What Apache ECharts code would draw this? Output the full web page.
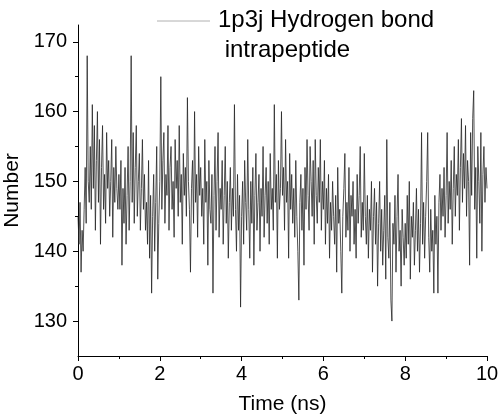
<!DOCTYPE html>
<html>
<head>
<meta charset="utf-8">
<title>1p3j Hydrogen bond</title>
<style>
  html, body { margin: 0; padding: 0; background: #fff; }
  #chart { width: 501px; height: 419px; }
</style>
</head>
<body>
<div id="chart"></div>
<script src="https://cdn.jsdelivr.net/npm/echarts@6/dist/echarts.min.js"></script>
<script type="text/javascript">
// hydrogen bond counts, one value every 0.025 ns (ns by ns)
var hb0 = [145,141,147,137,143,140,146,152,144,168,150,147,155,146,161,149,158,143,153,160,147,156,141,152,158,146,151,144,157,149,153,145,150,156,142,152,147,155,149,146];
var hb1 = [151,146,153,138,149,144,152,141,148,155,143,150,168,147,157,144,152,158,145,150,154,143,149,156,146,151,143,147,141,153,139,148,134,145,151,140,147,155,136,144];
var hb2 = [150,165,146,153,157,144,151,148,158,143,152,155,146,150,142,156,149,153,145,158,147,151,141,154,148,152,145,162,150,146,137,149,153,144,160,147,151,142,155,148];
var hb3 = [152,145,149,141,156,147,150,138,153,146,144,151,134,148,155,143,150,157,142,149,146,153,141,148,155,144,150,139,147,152,143,149,145,161,146,140,151,143,148,132];
var hb4 = [145,150,141,153,147,143,156,146,139,150,144,152,138,148,154,143,147,151,140,149,145,155,142,148,152,144,150,141,154,146,149,143,161,147,151,139,153,146,149,160];
var hb5 = [148,152,143,156,147,150,139,154,146,151,144,149,142,153,145,140,133,147,151,143,149,138,152,146,156,148,143,155,150,145,153,141,156,148,144,152,147,156,143,150];
var hb6 = [146,153,141,149,144,151,139,147,143,150,145,141,148,137,152,144,146,140,134,145,149,154,142,147,143,152,140,148,145,150,141,146,139,151,144,148,155,142,147,143];
var hb7 = [154,145,141,148,139,146,143,150,137,145,149,141,147,135,144,150,140,146,138,143,148,136,156,142,139,147,133,130,144,141,148,137,145,151,140,143,135,146,142,138];
var hb8 = [144,139,148,141,150,136,145,142,147,138,143,149,140,146,137,144,157,141,147,139,145,150,157,142,137,146,140,143,134,148,141,145,134,147,151,143,149,145,152,142];
var hb9 = [148,157,144,150,146,153,141,149,155,145,151,148,156,143,152,159,147,154,149,158,145,153,150,138,157,148,159,163,146,152,139,155,150,144,157,140,151,155,147,152];
var hbEnd = [149];

var timeStep = 0.025;
var xTicks = [0, 2, 4, 6, 8, 10];
var xMinor = [1, 3, 5, 7, 9];
var yTicks = [130, 140, 150, 160, 170];
var yMinor = [135, 145, 155, 165];
var seriesName = '1p3j Hydrogen bond';
var seriesName2 = ' intrapeptide';

var hbAll = [].concat(hb0, hb1, hb2, hb3, hb4, hb5, hb6, hb7, hb8, hb9, hbEnd);
var points = [];
for (var i = 0; i < hbAll.length; i++) {
  points.push([+(i * timeStep).toFixed(3), hbAll[i]]);
}

var font = 'Liberation Sans, Arial, sans-serif';
var grid = { left: 78, right: 14, top: 25, bottom: 63, containLabel: false, outerBoundsMode: 'none' };

var myChart = echarts.init(document.getElementById('chart'), null, { renderer: 'canvas' });

var option = {
  animation: false,
  backgroundColor: '#fff',
  grid: [grid, grid],
  xAxis: [{
    type: 'value',
    gridIndex: 0,
    min: 0,
    max: 10,
    name: 'Time (ns)',
    nameLocation: 'middle',
    nameGap: 38,
    nameTextStyle: { fontFamily: font, fontSize: 21, color: '#000' },
    axisLine: { show: true, lineStyle: { color: '#000', width: 1 } },
    axisTick: { show: true, inside: false, length: 5, customValues: xTicks, lineStyle: { color: '#000' } },
    axisLabel: { customValues: xTicks, margin: 8, fontFamily: font, fontSize: 20, color: '#000' },
    splitLine: { show: false }
  }, {
    type: 'value',
    gridIndex: 1,
    min: 0,
    max: 10,
    axisLine: { show: false },
    axisTick: { show: true, inside: false, length: 3, customValues: xMinor, lineStyle: { color: '#000' } },
    axisLabel: { show: false },
    splitLine: { show: false }
  }],
  yAxis: [{
    type: 'value',
    gridIndex: 0,
    min: 125,
    max: 172.4,
    name: 'Number',
    nameLocation: 'middle',
    nameGap: 47,
    nameTextStyle: { fontFamily: font, fontSize: 21, color: '#000' },
    axisLine: { show: true, lineStyle: { color: '#000', width: 1 } },
    axisTick: { show: true, inside: false, length: 5, customValues: yTicks, lineStyle: { color: '#000' } },
    axisLabel: { customValues: yTicks, margin: 11, fontFamily: font, fontSize: 20, color: '#000' },
    splitLine: { show: false }
  }, {
    type: 'value',
    gridIndex: 1,
    min: 125,
    max: 172.4,
    axisLine: { show: false },
    axisTick: { show: true, inside: false, length: 3, customValues: yMinor, lineStyle: { color: '#000' } },
    axisLabel: { show: false },
    splitLine: { show: false }
  }],
  series: [{
    name: seriesName,
    type: 'line',
    xAxisIndex: 0,
    yAxisIndex: 0,
    data: points,
    showSymbol: false,
    symbol: 'none',
    lineStyle: { color: '#262626', width: 0.8 },
    z: 3
  }],
  graphic: [{
    type: 'line',
    shape: { x1: 157, y1: 21, x2: 210, y2: 21 },
    style: { stroke: '#b0b0b0', lineWidth: 1 }
  }, {
    type: 'text',
    left: 218,
    top: 5,
    style: {
      text: seriesName + '\n' + seriesName2,
      fontFamily: font,
      fontSize: 24,
      lineHeight: 30,
      fill: '#000'
    }
  }]
};

myChart.setOption(option);
</script>
</body>
</html>
